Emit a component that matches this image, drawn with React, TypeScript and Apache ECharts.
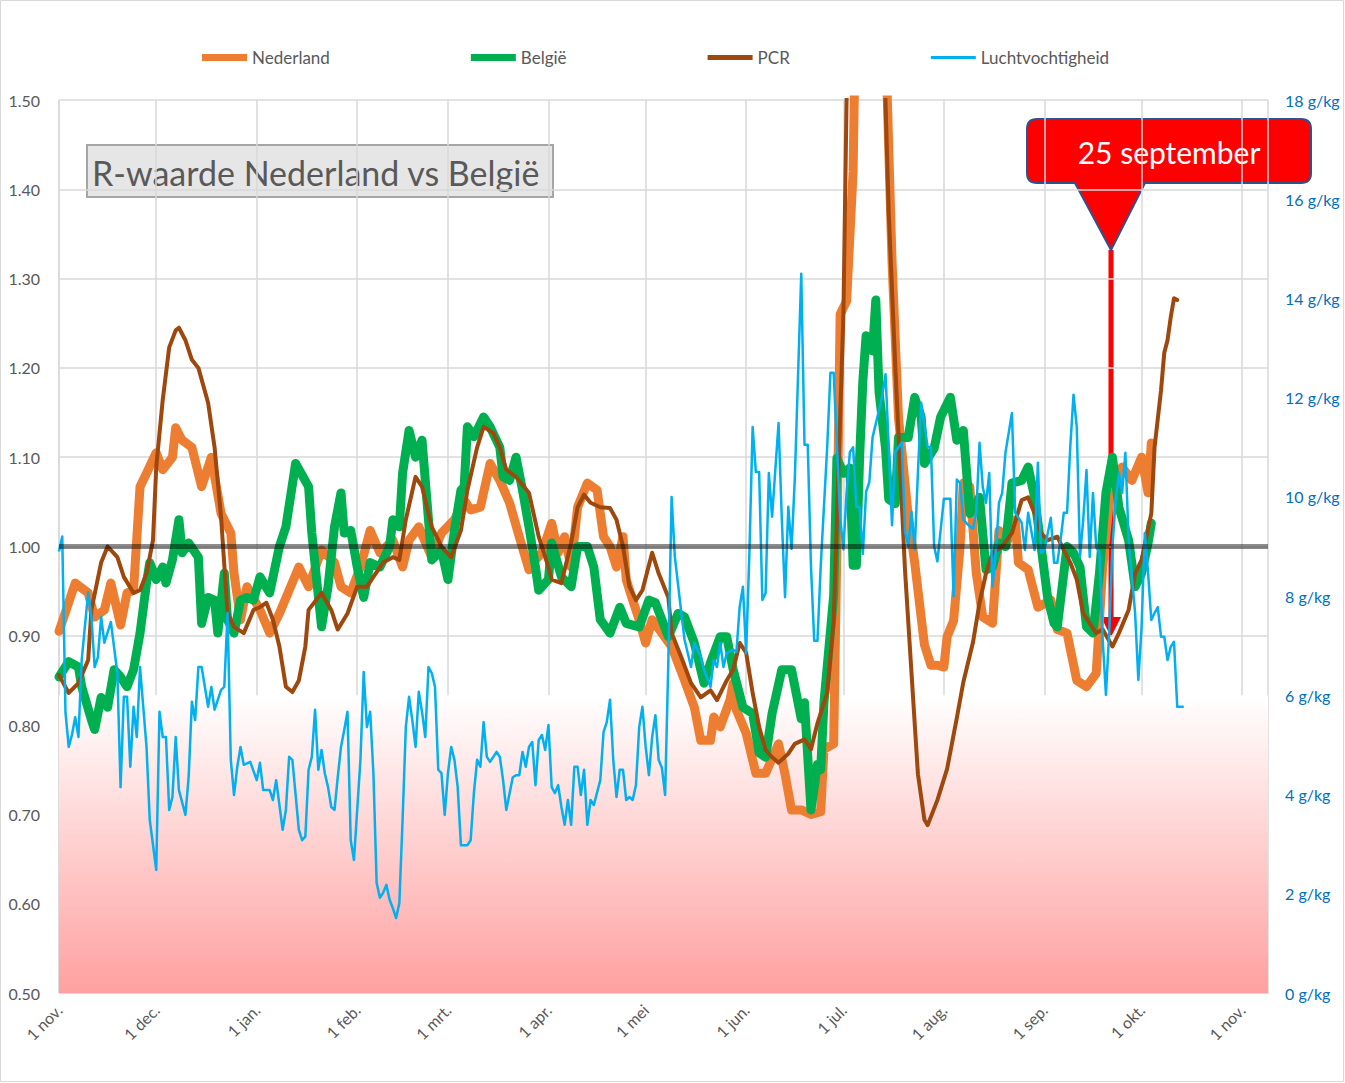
import React, { useEffect, useRef } from "react";
import * as echarts from "echarts";

// ---------- data (day index counted from 1 nov. 2020) ----------
const monthLabels = ["jan.", "feb.", "mrt.", "apr.", "mei", "jun.", "jul.", "aug.", "sep.", "okt.", "nov.", "dec."];
const seriesNames = ["Nederland", "België", "PCR", "Luchtvochtigheid"];

const nederland: [number, number][] = [
  [0,0.905],[5,0.959],[9,0.948],[11,0.921],[14,0.929],[16,0.959],[19,0.912],[21,0.948],[23,0.951],[25,1.067],[27,1.082],[30,1.105],[32,1.086],[35,1.100],[36,1.133],[38,1.119],[41,1.111],[44,1.067],[47,1.100],[50,1.037],[53,1.015],[54,0.970],[56,0.918],[58,0.955],[62,0.929],[65,0.903],[68,0.925],[74,0.977],[77,0.955],[81,0.996],[85,0.982],[87,0.955],[90,0.948],[93,0.977],[96,1.018],[99,0.993],[103,1.007],[106,0.977],[108,1.007],[111,1.022],[115,0.988],[118,1.015],[122,1.030],[125,1.052],[127,1.041],[130,1.044],[133,1.093],[136,1.074],[139,1.049],[142,1.011],[145,0.974],[147,0.985],[149,0.993],[152,1.026],[154,0.993],[156,1.011],[158,0.977],[160,1.044],[163,1.071],[166,1.063],[168,1.011],[170,1.000],[172,0.977],[174,1.011],[175,0.963],[177,0.940],[179,0.918],[181,0.892],[183,0.918],[186,0.903],[189,0.888],[193,0.850],[196,0.820],[198,0.783],[201,0.783],[202,0.809],[204,0.798],[207,0.828],[208,0.847],[209,0.817],[212,0.791],[215,0.746],[218,0.746],[222,0.779],[224,0.745],[226,0.705],[229,0.705],[232,0.700],[235,0.703],[236,0.773],[239,0.779],[240,1.0],[241,1.26],[243,1.275],[245,1.42],[246,1.65],[249,2.0],[252,1.9],[255,1.57],[257,1.32],[259,1.144],[262,1.035],[264,0.982],[267,0.890],[269,0.867],[271,0.867],[273,0.865],[274,0.899],[276,0.917],[278,1.0],[279,1.071],[281,1.067],[283,0.970],[285,0.921],[288,0.914],[290,1.018],[292,1.000],[295,1.030],[296,0.982],[299,0.974],[302,0.932],[306,0.940],[308,0.907],[311,0.903],[314,0.850],[317,0.843],[320,0.858],[322,0.977],[324,1.049],[326,1.067],[328,1.089],[331,1.074],[334,1.100],[336,1.060],[337,1.116]
];

const belgie: [number, number][] = [
  [0,0.854],[3,0.871],[6,0.865],[7,0.843],[10,0.806],[11,0.795],[13,0.831],[15,0.820],[17,0.862],[19,0.854],[21,0.843],[23,0.862],[25,0.903],[27,0.959],[28,0.982],[30,0.963],[32,0.977],[33,0.959],[35,0.985],[37,1.030],[38,0.993],[40,1.004],[43,0.988],[44,0.914],[46,0.943],[48,0.940],[49,0.903],[51,0.970],[52,0.918],[54,0.903],[56,0.940],[58,0.943],[60,0.940],[62,0.966],[65,0.948],[68,1.000],[70,1.022],[73,1.093],[77,1.067],[78,1.015],[81,0.910],[83,0.955],[85,1.022],[87,1.060],[88,1.015],[90,1.018],[92,0.977],[94,0.943],[96,0.982],[99,0.977],[102,1.000],[103,1.030],[105,1.022],[106,1.082],[108,1.130],[110,1.100],[112,1.119],[115,0.985],[118,0.996],[120,0.963],[122,1.018],[124,1.063],[125,1.067],[126,1.134],[128,1.123],[131,1.145],[133,1.134],[136,1.111],[137,1.078],[139,1.074],[141,1.100],[143,1.063],[145,1.022],[147,0.977],[148,0.951],[151,0.963],[152,1.004],[155,0.966],[158,0.955],[160,1.000],[163,1.000],[165,0.977],[167,0.918],[170,0.903],[173,0.932],[175,0.914],[179,0.910],[182,0.940],[184,0.937],[188,0.899],[191,0.925],[193,0.921],[196,0.892],[198,0.862],[199,0.847],[201,0.870],[204,0.899],[206,0.899],[208,0.862],[211,0.820],[214,0.813],[216,0.769],[218,0.764],[220,0.813],[223,0.862],[226,0.862],[229,0.807],[230,0.825],[232,0.705],[234,0.756],[235,0.750],[236,0.825],[239,0.945],[240,1.099],[242,1.082],[244,1.088],[245,0.979],[246,0.979],[247,1.099],[248,1.185],[249,1.236],[251,1.219],[252,1.276],[253,1.173],[255,1.110],[256,1.053],[258,1.048],[259,1.122],[262,1.122],[264,1.167],[266,1.145],[267,1.093],[270,1.110],[272,1.145],[275,1.167],[277,1.119],[279,1.130],[281,1.037],[284,1.055],[286,0.974],[288,0.977],[290,1.004],[292,1.000],[294,1.071],[297,1.074],[299,1.089],[301,1.055],[303,1.000],[305,0.943],[307,0.914],[308,0.910],[309,0.940],[311,1.000],[313,0.993],[315,0.977],[317,0.910],[319,0.903],[321,0.970],[323,1.060],[325,1.100],[327,1.044],[330,1.007],[332,0.955],[334,0.970],[336,1.004],[337,1.026]
];

const pcr: [number, number][] = [
  [0,0.856],[3,0.836],[6,0.847],[9,0.873],[10,0.929],[13,0.982],[15,1.000],[18,0.988],[20,0.966],[23,0.948],[25,0.951],[27,0.970],[29,1.007],[30,1.089],[32,1.164],[34,1.223],[36,1.242],[37,1.245],[39,1.231],[41,1.209],[43,1.200],[46,1.161],[48,1.111],[50,1.033],[52,0.926],[54,0.910],[57,0.903],[60,0.929],[62,0.932],[64,0.937],[66,0.918],[68,0.888],[70,0.843],[72,0.837],[74,0.850],[76,0.888],[77,0.929],[81,0.948],[84,0.929],[86,0.907],[89,0.925],[92,0.955],[95,0.955],[97,0.966],[100,0.982],[103,0.988],[105,0.985],[107,1.030],[110,1.078],[112,1.067],[115,1.022],[118,1.000],[121,0.988],[124,1.018],[126,1.063],[129,1.111],[131,1.134],[134,1.127],[136,1.111],[138,1.086],[141,1.078],[145,1.060],[148,1.011],[151,0.977],[152,0.963],[155,0.959],[158,1.004],[160,1.044],[162,1.058],[164,1.049],[167,1.044],[170,1.043],[172,1.030],[174,1.000],[176,0.955],[178,0.940],[180,0.951],[183,0.993],[185,0.970],[188,0.943],[189,0.903],[192,0.876],[195,0.847],[198,0.831],[201,0.839],[203,0.828],[206,0.850],[208,0.862],[210,0.892],[212,0.881],[214,0.836],[216,0.798],[218,0.772],[220,0.764],[222,0.758],[225,0.768],[227,0.779],[230,0.784],[232,0.773],[234,0.802],[237,0.836],[239,0.917],[240,1.031],[242,1.259],[244,1.75],[247,2.2],[251,2.2],[254,1.62],[256,1.373],[258,1.202],[261,0.974],[263,0.859],[265,0.745],[267,0.694],[268,0.688],[271,0.716],[274,0.751],[277,0.808],[279,0.848],[282,0.893],[284,0.937],[286,0.970],[288,0.993],[291,1.000],[294,1.015],[297,1.052],[299,1.055],[301,1.037],[303,1.015],[305,1.007],[308,1.011],[310,0.996],[312,0.982],[314,0.963],[316,0.925],[318,0.914],[320,0.903],[322,0.907],[325,0.888],[327,0.903],[330,0.929],[332,0.970],[334,0.985],[337,1.037],[338,1.111],[340,1.175],[341,1.217],[342,1.231],[343,1.257],[344,1.278],[345,1.276]
];

const luchtvochtigheid: [number, number][] = [
  [0,8.9],[1,9.2],[2,5.65],[3,4.96],[4,5.2],[5,5.56],[6,5.16],[7,6.71],[9,8.08],[10,7.58],[11,6.57],[12,6.77],[13,7.58],[14,7.06],[16,7.48],[18,6.45],[19,4.15],[20,5.97],[21,5.97],[22,4.56],[23,5.77],[24,5.16],[25,6.57],[27,4.96],[28,3.49],[30,2.48],[31,5.67],[32,5.16],[33,5.16],[34,3.69],[35,3.95],[36,5.16],[37,4.09],[39,3.59],[40,4.35],[41,5.87],[42,5.5],[43,6.57],[44,6.57],[46,5.77],[47,6.17],[48,5.71],[50,6.11],[51,6.17],[52,7.66],[53,4.7],[54,3.99],[55,4.56],[56,4.96],[57,4.6],[59,4.66],[61,4.29],[62,4.64],[63,4.09],[65,4.09],[66,3.89],[67,4.29],[69,3.29],[70,3.69],[71,4.76],[72,4.7],[74,3.29],[75,3.08],[76,3.15],[77,4.5],[78,4.76],[79,5.71],[80,4.5],[81,4.9],[82,4.43],[83,4.15],[84,3.75],[85,3.69],[86,4.35],[87,4.96],[88,5.3],[89,5.67],[90,3.08],[91,2.68],[93,4.7],[94,6.47],[95,5.36],[96,5.67],[97,4.43],[98,2.22],[99,1.92],[100,2.02],[101,2.18],[102,1.88],[103,1.71],[104,1.51],[105,1.81],[106,3.49],[107,5.36],[108,5.97],[109,5.5],[110,4.96],[111,6.07],[112,5.67],[113,5.16],[114,6.57],[115,6.45],[116,6.17],[117,4.5],[118,4.43],[119,3.59],[120,4.43],[121,4.96],[122,4.7],[123,4.15],[124,2.98],[126,2.98],[127,3.08],[128,4.03],[129,4.7],[130,4.56],[131,5.46],[132,4.76],[133,4.66],[135,4.86],[136,4.76],[137,4.29],[138,3.69],[140,4.35],[141,4.39],[142,4.39],[143,4.86],[144,4.56],[145,4.96],[146,5.06],[147,4.19],[148,5.1],[149,5.2],[150,4.9],[151,5.4],[152,4.15],[153,4.03],[154,4.19],[155,3.75],[156,3.39],[157,3.89],[158,3.39],[159,4.56],[160,4.56],[161,3.99],[162,4.5],[163,3.39],[164,3.89],[165,3.79],[167,4.29],[168,5.26],[169,5.46],[170,5.91],[171,4.7],[172,3.95],[173,4.5],[174,4.5],[175,3.89],[176,3.95],[177,3.89],[178,4.19],[179,5.36],[180,5.77],[181,4.96],[182,4.39],[183,5.16],[184,5.6],[185,4.7],[186,4.54],[187,3.99],[188,6.71],[189,10.0],[190,8.79],[192,7.66],[193,7.12],[195,6.57],[196,7.06],[198,6.77],[199,6.51],[201,6.17],[202,6.71],[203,6.57],[204,7.06],[205,6.57],[206,6.85],[208,6.92],[209,6.88],[210,7.78],[211,8.19],[212,6.85],[213,8.87],[214,11.41],[215,10.5],[216,10.5],[217,7.92],[218,8.06],[219,10.48],[220,9.6],[222,11.49],[223,9.56],[224,7.98],[225,9.8],[226,8.95],[227,10.35],[229,14.5],[230,11.05],[231,11.05],[232,8.6],[233,7.1],[234,7.1],[235,8.6],[237,11.0],[238,12.5],[239,12.5],[240,11.05],[241,9.6],[242,8.94],[243,10.1],[244,10.9],[245,11.0],[246,9.8],[247,9.8],[248,8.85],[249,10.1],[250,10.3],[251,11.2],[253,11.75],[254,12.05],[255,12.47],[256,11.0],[257,9.43],[258,10.9],[260,11.1],[261,9.3],[262,9.0],[263,9.7],[264,8.94],[265,10.5],[266,11.9],[268,11.0],[269,11.0],[270,9.0],[271,8.7],[273,9.96],[275,9.96],[276,8.0],[277,10.35],[278,10.28],[279,9.54],[281,9.4],[282,9.36],[283,9.68],[284,11.09],[285,10.2],[286,9.88],[287,10.48],[288,8.19],[289,8.87],[290,9.88],[291,10.08],[292,10.89],[293,11.29],[294,11.69],[295,9.68],[297,9.48],[298,8.93],[299,9.68],[301,8.93],[302,10.69],[303,8.87],[304,8.93],[306,9.58],[307,8.67],[308,8.67],[309,9.13],[310,9.68],[311,9.68],[312,11.01],[313,12.06],[314,11.41],[315,8.79],[316,9.54],[317,10.54],[318,8.79],[319,10.08],[320,8.99],[321,8.87],[322,7.12],[323,6.01],[324,7.26],[325,8.99],[326,9.94],[327,10.48],[328,10.08],[329,10.89],[330,9.13],[332,7.66],[333,6.31],[334,7.38],[335,9.27],[336,8.47],[337,7.52],[338,7.66],[339,7.78],[340,7.18],[341,7.18],[342,6.71],[343,6.98],[344,7.08],[345,5.77],[347,5.77]
];

const axisStartDay = 0;   // 1 nov. 2020
const axisEndDay = 373;   // a few days past 1 nov. 2021
const referenceR = 1.0;
const dryLimit = 6;       // g/kg, top of the red band
const calloutText = "25 september";
const titleText = "R-waarde Nederland vs België";

const toTime = (d: number) => new Date(2020, 10, 1 + d).getTime();
const toSeries = (arr: [number, number][]) => arr.map(([d, v]) => [toTime(d), v]);

const FONT = "Lato";
const GREY = "#595959";

const calloutPath =
  "M10 0 H274 Q284 0 284 10 V54 Q284 64 274 64 H118 L84 131 L48 64 H10 Q0 64 0 54 V10 Q0 0 10 0 Z";

export default function App() {
  const ref = useRef<HTMLDivElement>(null);

  useEffect(() => {
    if (!ref.current) return;
    try {
      echarts.graphic.registerShape("callout", echarts.graphic.extendPath(calloutPath, {}));
    } catch (e) {}
    const chart = echarts.init(ref.current, undefined, { renderer: "svg" });

    const option: any = {
      animation: false,
      backgroundColor: "#ffffff",
      textStyle: { fontFamily: FONT },
      legend: {
        data: [
          { name: seriesNames[0], icon: "path://M0,0H45V7H0Z" },
          { name: seriesNames[1], icon: "path://M0,0H45V7H0Z" },
          { name: seriesNames[2], icon: "path://M0,0H45V5H0Z" },
          { name: seriesNames[3], icon: "path://M0,0H45V3H0Z" },
        ],
        left: 197,
        top: 44,
        itemWidth: 45,
        itemHeight: 14,
        itemGap: 141,
        textStyle: { color: GREY, fontSize: 17, fontFamily: FONT },
        selectedMode: false,
      },
      grid: { left: 59, right: 77, top: 100, bottom: 90, containLabel: false },
      xAxis: {
        type: "time",
        min: toTime(axisStartDay),
        max: toTime(axisEndDay),
        splitNumber: 12,
        axisLine: { show: true, lineStyle: { color: "#D9D9D9", width: 1.5 } },
        axisTick: { show: false },
        splitLine: { show: true, lineStyle: { color: "#D9D9D9", width: 1.5 } },
        axisLabel: {
          rotate: 45,
          margin: 14,
          color: GREY,
          fontSize: 16,
          fontFamily: FONT,
          showMinLabel: true,
          hideOverlap: false,
          formatter: (val: number) => {
            const d = new Date(val);
            if (d.getDate() !== 1) return "";
            return "1 " + monthLabels[d.getMonth()];
          },
        },
      },
      yAxis: [
        {
          type: "value",
          min: 0.5,
          max: 1.5,
          interval: 0.1,
          axisLine: { show: false },
          axisTick: { show: false },
          splitLine: { show: true, lineStyle: { color: "#D9D9D9", width: 1.5 } },
          axisLabel: {
            color: GREY,
            fontSize: 16,
            fontFamily: FONT,
            margin: 19,
            formatter: (v: number) => v.toFixed(2),
          },
        },
        {
          type: "value",
          min: 0,
          max: 18,
          interval: 2,
          axisLine: { show: false },
          axisTick: { show: false },
          splitLine: { show: false },
          axisLabel: {
            color: "#0070C0",
            fontSize: 16,
            fontFamily: FONT,
            margin: 17,
            formatter: (v: number) => `${v} g/kg`,
          },
        },
      ],
      series: [
        {
          name: seriesNames[0],
          type: "line",
          data: toSeries(nederland),
          showSymbol: false,
          symbol: "none",
          color: "#ED7D31",
          itemStyle: { color: "#ED7D31" },
          lineStyle: { color: "#ED7D31", width: 9, cap: "round", join: "round" },
          z: 2,
          markLine: {
            silent: true,
            symbol: ["none", "none"],
            label: { show: false },
            lineStyle: { color: "rgba(0,0,0,0.45)", width: 5, type: "solid" },
            data: [{ yAxis: referenceR }],
            z: 6,
          },
        },
        {
          name: seriesNames[1],
          type: "line",
          data: toSeries(belgie),
          showSymbol: false,
          symbol: "none",
          color: "#00B050",
          itemStyle: { color: "#00B050" },
          lineStyle: { color: "#00B050", width: 9, cap: "round", join: "round" },
          z: 3,
        },
        {
          name: seriesNames[2],
          type: "line",
          data: toSeries(pcr),
          showSymbol: false,
          symbol: "none",
          color: "#9E480E",
          itemStyle: { color: "#9E480E" },
          lineStyle: { color: "#9E480E", width: 4, cap: "round", join: "round" },
          z: 4,
        },
        {
          name: seriesNames[3],
          type: "line",
          yAxisIndex: 1,
          data: toSeries(luchtvochtigheid),
          showSymbol: false,
          symbol: "none",
          color: "#00B0F0",
          itemStyle: { color: "#00B0F0" },
          lineStyle: { color: "#00B0F0", width: 2.5, join: "round" },
          z: 5,
          markArea: {
            silent: true,
            z: 1,
            itemStyle: {
              color: new echarts.graphic.LinearGradient(0, 0, 0, 1, [
                { offset: 0, color: "#FFFFFF" },
                { offset: 1, color: "#FFA0A0" },
              ]),
            },
            data: [[{ yAxis: dryLimit }, { yAxis: 0 }]],
          },
        },
      ],
      graphic: [
        {
          type: "rect",
          z: 100,
          shape: { x: 0.5, y: 0.5, width: 1343, height: 1081 },
          style: { fill: "none", stroke: "#D9D9D9", lineWidth: 1 },
          silent: true,
        },
        {
          type: "group",
          z: 100,
          children: [
            {
              type: "rect",
              shape: { x: 87, y: 145, width: 466, height: 52 },
              style: { fill: "#E7E6E6", stroke: "#A5A5A5", lineWidth: 2 },
            },
            {
              type: "text",
              x: 92,
              y: 172,
              style: {
                text: titleText,
                fill: GREY,
                fontSize: 34,
                fontFamily: FONT,
                verticalAlign: "middle",
                align: "left",
              },
            },
          ],
        },
        {
          type: "group",
          z: 100,
          children: [
            {
              type: "line",
              shape: { x1: 1111, y1: 250, x2: 1111, y2: 621 },
              style: { stroke: "#FF0000", lineWidth: 5 },
            },
            {
              type: "polygon",
              shape: { points: [[1101, 617], [1121, 617], [1111, 637]] },
              style: { fill: "#FF0000" },
            },
            {
              type: "callout",
              x: 1027,
              y: 119,
              scaleX: 1,
              scaleY: 1,
              style: { fill: "#FF0000", stroke: "#2F528F", lineWidth: 2 },
            },
            {
              type: "text",
              x: 1169,
              y: 152,
              style: {
                text: calloutText,
                fill: "#FFFFFF",
                fontSize: 30,
                fontFamily: FONT,
                align: "center",
                verticalAlign: "middle",
              },
            },
          ],
        },
      ],
    };

    chart.setOption(option);
    return () => chart.dispose();
  }, []);

  return (
    <div
      ref={ref}
      style={{ position: "absolute", left: 0, top: 0, width: 1345, height: 1083 }}
    />
  );
}
